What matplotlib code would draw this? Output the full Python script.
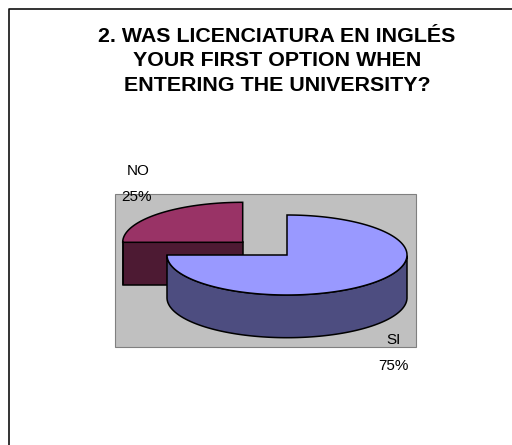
import numpy as np
import matplotlib
matplotlib.use('Agg')
import matplotlib.pyplot as plt
from matplotlib.patches import Polygon, Rectangle

plt.rcParams['font.family'] = ['Liberation Sans', 'DejaVu Sans']

categorias = ['SI', 'NO']
porcentagens = [75, 25]
titulo = '2. WAS LICENCIATURA EN INGLÉS\nYOUR FIRST OPTION WHEN\nENTERING THE UNIVERSITY?'

cor_topo = {'SI': '#9999ff', 'NO': '#993366'}
cor_lado = {'SI': '#4d4d80', 'NO': '#4d1a33'}
# centro de cada fatia (em pixels)
centros = {'SI': (287, 255), 'NO': (242.7, 242.3)}
# posicao do nome e da porcentagem
pos_nome = {'SI': (393.5, 340), 'NO': (138, 171)}
pos_valor = {'SI': (393, 366), 'NO': (137, 197)}

rx, ry, prof = 120, 40, 42.7

fig = plt.figure(figsize=(5.12, 4.45), dpi=100)
ax = fig.add_axes([0, 0, 1, 1])
ax.set_xlim(0, 512)
ax.set_ylim(445, 0)
ax.axis('off')

# moldura da pagina
ax.plot([9, 9, 512], [445, 8.7, 8.7], color='#111111', lw=1.2, solid_capstyle='butt')

# fundo cinza do grafico
ax.add_patch(Rectangle((115, 194), 301, 153, fc='#c0c0c0', ec='#808080', lw=0.8))


def desenha_fatia(nome, inicio, varredura):
    cx, cy = centros[nome]
    # angulo no sentido horario a partir das 12h
    t = np.radians(np.linspace(inicio, inicio + varredura, 200))
    x = cx + rx * np.sin(t)
    y = cy - ry * np.cos(t)

    # parede lateral curva, so a parte virada para frente
    frente = np.cos(t) <= 0.001
    if frente.any():
        xf, yf = x[frente], y[frente]
        lado = np.column_stack([np.r_[xf, xf[::-1]], np.r_[yf, yf[::-1] + prof]])
        ax.add_patch(Polygon(lado, fc=cor_lado[nome], ec='black', lw=1.1, zorder=3))

    # parede plana do corte, caso da fatia NO
    if nome == 'NO':
        parede = [(x[0], y[0]), (cx, cy), (cx, cy + prof), (x[0], y[0] + prof)]
        ax.add_patch(Polygon(parede, fc=cor_lado[nome], ec='black', lw=1.1, zorder=2))

    topo = np.column_stack([np.r_[cx, x], np.r_[cy, y]])
    ax.add_patch(Polygon(topo, fc=cor_topo[nome], ec='black', lw=1.1, zorder=4))


total = sum(porcentagens)
angulo = 0
ordem = []
for nome, valor in zip(categorias, porcentagens):
    ordem.append((nome, angulo, 360 * valor / total))
    angulo += 360 * valor / total

# NO fica atras, desenha antes
for nome, inicio, varredura in ordem[::-1]:
    desenha_fatia(nome, inicio, varredura)

ax.text(277, 61, titulo, ha='center', va='center', fontsize=15.4, fontweight='bold',
        linespacing=1.35, color='black')

for nome, valor in zip(categorias, porcentagens):
    ax.text(*pos_nome[nome], nome, ha='center', va='center', fontsize=11, zorder=6)
    ax.text(*pos_valor[nome], f'{valor}%', ha='center', va='center', fontsize=11, zorder=6)

fig.savefig('out.png', dpi=100)
